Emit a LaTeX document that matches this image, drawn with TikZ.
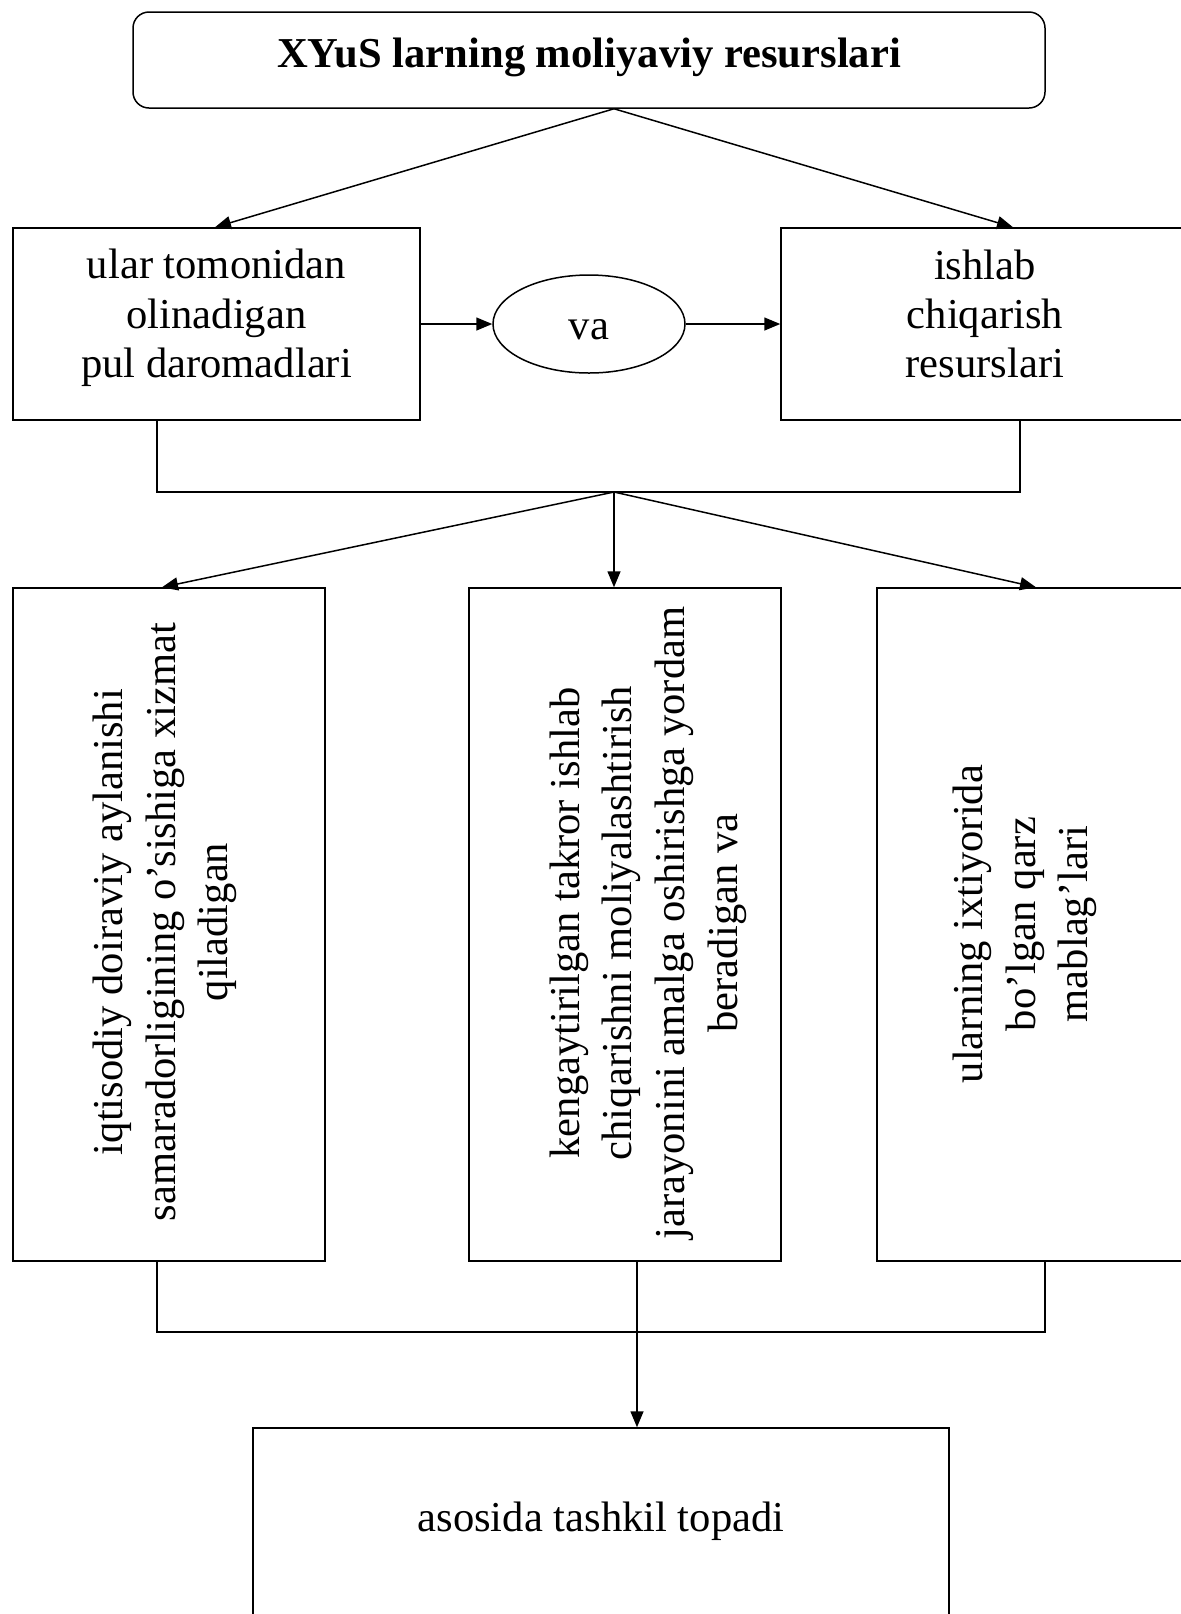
\documentclass[tikz,border=0pt]{standalone}
\usepackage{fontspec}
\setmainfont{Liberation Serif}
\usetikzlibrary{positioning}
\usetikzlibrary{arrows.meta}
\usetikzlibrary{shapes.geometric}
\newcommand{\boxfont}{\fontsize{21.3}{24.7}\selectfont}
\newcommand{\sidefont}{\fontsize{21.3}{26.3}\selectfont}

\begin{document}
\begin{tikzpicture}[x=0.5pt, y=-0.5pt, line width=0.75pt,
    hbox/.style={draw, rectangle},
    htext/.style={align=center, font=\boxfont},
    vbox/.style={draw, rectangle, minimum height=336.5pt},
    vtext/.style={rotate=90, align=center, font=\sidefont},
    arr/.style={-{Triangle[length=8pt, width=6.5pt]}}]
    \useasboundingbox (0,0) rectangle (1181,1614);
    \clip (0,0) rectangle (1181,1614);

    % top row
    \node[hbox, rounded corners=8pt, minimum width=456pt, minimum height=48pt] (title) at (589,60) {};
    \node[htext, font=\boxfont\bfseries] (titletext) at (589,57) {XYuS larning moliyaviy resurslari};
    \node[hbox, minimum width=203.5pt, minimum height=96pt] (income) at (216.5,324) {};
    \node[htext] (incometext) at (216.5,318) {ular tomonidan\\olinadigan\\pul daromadlari};
    \node[draw, ellipse, minimum width=96pt, minimum height=49pt, inner sep=0pt] (va) at (589,324) {};
    \node[htext] (vatext) at (589,330) {va};
    \node[hbox, minimum width=204pt, minimum height=96pt] (prod) at (985,324) {};
    \node[htext] (prodtext) at (985,314) {ishlab\\chiqarish\\resurslari};

    % middle row
    \node[vbox, minimum width=156pt] (rowL) at (169,924.5) {};
    \node[vbox, minimum width=156pt] (rowM) at (625,924.5) {};
    \node[vbox, minimum width=153pt] (rowR) at (1030,924.5) {};
    \node[vtext] (rowLtext) at (165,922) {iqtisodiy doiraviy aylanishi\\samaradorligining o’sishiga xizmat\\qiladigan};
    \node[vtext] (rowMtext) at (648,923) {kengaytirilgan takror ishlab\\chiqarishni moliyalashtirish\\jarayonini amalga oshirishga yordam\\beradigan va};
    \node[vtext] (rowRtext) at (1025,924) {ularning ixtiyorida\\bo’lgan qarz\\mablag’lari};

    % bottom
    \node[hbox, minimum width=348pt, minimum height=112pt] (basis) at (601,1540) {};
    \node[htext] (basistext) at (601,1521) {asosida tashkil topadi};

    \coordinate (split1) at (614,492);
    \coordinate (inl) at (157,492);
    \coordinate (inr) at (1020,492);
    \coordinate (tipA) at (215,0);
    \coordinate (tipB) at (1013,0);
    \coordinate (tipL) at (162,0);
    \coordinate (tipR) at (1036,0);
    \coordinate (outl) at (157,1332);
    \coordinate (outr) at (1045,1332);
    \coordinate (outm) at (637,1332);

    \draw[arr] (title.south -| split1) -- (income.north -| tipA);
    \draw[arr] (title.south -| split1) -- (prod.north -| tipB);
    \draw[arr] (income) -- (va);
    \draw[arr] (va) -- (prod);

    \draw (income.south -| inl) -- (inl) -- (inr) -- (prod.south -| inr);
    \draw[arr] (split1) -- (rowL.north -| tipL);
    \draw[arr] (split1) -- (rowM.north -| split1);
    \draw[arr] (split1) -- (rowR.north -| tipR);

    \draw (rowL.south -| outl) -- (outl) -- (outr) -- (rowR.south -| outr);
    \draw[arr] (rowM.south -| outm) -- (basis.north -| outm);
\end{tikzpicture}
\end{document}
